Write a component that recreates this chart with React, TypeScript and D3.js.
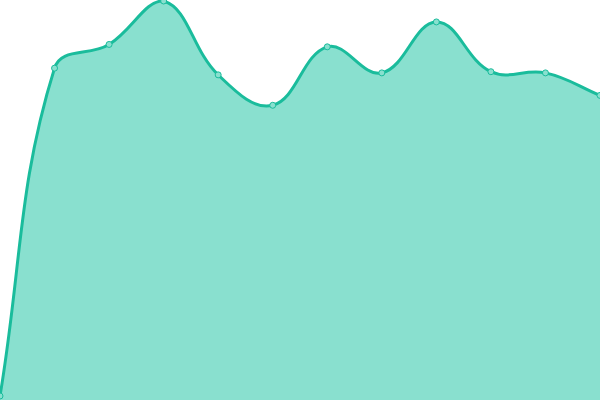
import React from 'react'
import * as d3 from "d3";

const labels = ["1", "2", "3", "4", "5", "6", "7", "8", "9", "10", "11", "12"]
const values = [0, 83, 89, 100, 81.3, 73.6, 88.4, 81.8, 94.7, 82.1, 81.8, 76.1]

const width = 600
const height = 400
const tension = 0.4

// spline with control arms scaled by neighbour distance, clamped to the plot box
const splinePath = (pts: [number, number][], closeTo?: number) => {
  const ctrl = pts.map((cur, i) => {
    const prev = pts[i - 1] ?? cur
    const next = pts[i + 1] ?? cur
    const d01 = Math.hypot(cur[0] - prev[0], cur[1] - prev[1])
    const d12 = Math.hypot(next[0] - cur[0], next[1] - cur[1])
    const s01 = d01 + d12 ? d01 / (d01 + d12) : 0
    const s12 = d01 + d12 ? d12 / (d01 + d12) : 0
    const fa = tension * s01
    const fb = tension * s12
    const clampX = (v: number) => Math.max(0, Math.min(width, v))
    const clampY = (v: number) => Math.max(0, Math.min(height, v))
    return {
      prev: [clampX(cur[0] - fa * (next[0] - prev[0])), clampY(cur[1] - fa * (next[1] - prev[1]))],
      next: [clampX(cur[0] + fb * (next[0] - prev[0])), clampY(cur[1] + fb * (next[1] - prev[1]))],
    }
  })
  const p = d3.path()
  p.moveTo(pts[0][0], pts[0][1])
  for (let i = 1; i < pts.length; i++) {
    p.bezierCurveTo(ctrl[i - 1].next[0], ctrl[i - 1].next[1], ctrl[i].prev[0], ctrl[i].prev[1], pts[i][0], pts[i][1])
  }
  if (closeTo !== undefined) {
    p.lineTo(pts[pts.length - 1][0], closeTo)
    p.lineTo(pts[0][0], closeTo)
    p.closePath()
  }
  return p.toString()
}

export default function App() {
  const xScale = d3.scalePoint<string>()
    .domain(labels)
    .range([0, width])

  const yScale = d3.scaleLinear()
    .domain([0, 100])
    .range([396, 1])

  const pts = values.map((v, i) => [xScale(labels[i]) as number, yScale(v)] as [number, number])

  return (
    <div style={{ position: "fixed", left: 0, top: 0, width, height, background: "#fff" }}>
      <svg width={width} height={height} style={{ display: "block" }}>
        <path d={splinePath(pts, height)} fill="#89e0cf" stroke="none" />
        <path d={splinePath(pts)} fill="none" stroke="#1abc9c" strokeWidth={3} />
        {pts.map((pt, i) => (
          <circle
            key={labels[i]}
            cx={pt[0]}
            cy={pt[1]}
            r={3}
            fill="#89e0cf"
            stroke="#1abc9c"
            strokeWidth={1}
          />
        ))}
      </svg>
    </div>
  )
}
